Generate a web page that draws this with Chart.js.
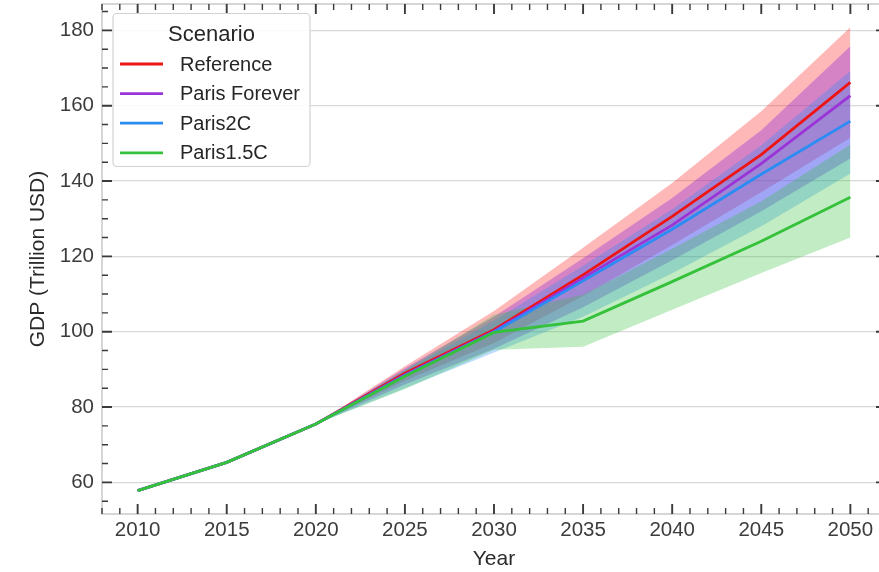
<!DOCTYPE html>
<html>
<head>
<meta charset="utf-8">
<script src="https://cdn.jsdelivr.net/npm/chart.js@4.4.1/dist/chart.umd.min.js"></script>
<style>
  html, body { margin: 0; padding: 0; background: #fff; overflow: hidden; }
  #wrap { width: 879px; height: 572px; overflow: hidden; }
  canvas { display: block; }
</style>
</head>
<body>
<div id="wrap"><canvas id="gdp" width="886" height="572"></canvas></div>
<script>
// Global GDP pathways by scenario (trillion USD)
const years = [2010, 2015, 2020, 2025, 2030, 2035, 2040, 2045, 2050];
const scenarioNames = ['Reference', 'Paris Forever', 'Paris2C', 'Paris1.5C'];

const referenceGdp    = [57.8, 65.3, 75.5, 89.0, 100.5, 115.1, 130.6, 147.0, 166.2];
const parisForeverGdp = [57.8, 65.3, 75.5, 88.6, 100.1, 114.3, 128.3, 144.6, 162.7];
const paris2cGdp      = [57.8, 65.3, 75.5, 88.3,  99.9, 113.5, 127.2, 141.8, 155.9];
const paris15cGdp     = [57.8, 65.3, 75.5, 88.2,  99.8, 102.8, 113.3, 124.0, 135.7];

// Uncertainty ranges around each pathway
const referenceHigh    = [57.8, 65.3, 75.5, 90.8, 105.5, 122.3, 139.5, 158.5, 180.8];
const referenceLow     = [57.8, 65.3, 75.5, 87.0,  97.0, 109.5, 123.0, 137.0, 151.5];
const parisForeverHigh = [57.8, 65.3, 75.5, 90.3, 104.0, 119.5, 135.5, 153.5, 175.8];
const parisForeverLow  = [57.8, 65.3, 75.5, 86.0,  95.5, 106.5, 119.0, 132.0, 146.0];
const paris2cHigh      = [57.8, 65.3, 75.5, 89.8, 103.0, 117.5, 132.5, 149.5, 169.2];
const paris2cLow       = [57.8, 65.3, 75.5, 85.0,  94.5, 104.0, 115.5, 128.0, 142.0];
const paris15cHigh     = [57.8, 65.3, 75.5, 89.8, 104.5, 109.8, 122.0, 134.6, 149.7];
const paris15cLow      = [57.8, 65.3, 75.5, 84.8,  95.2,  96.0, 105.8, 115.6, 125.0];

const xTickValues = [2010, 2015, 2020, 2025, 2030, 2035, 2040, 2045, 2050];
const yTickValues = [60, 80, 100, 120, 140, 160, 180];

const lineColors = ['#ee1414', '#9a34d8', '#2b8cf3', '#35c13a'];
const bandColors = ['rgba(255,20,20,0.30)', 'rgba(140,40,225,0.36)', 'rgba(35,140,250,0.30)', 'rgba(51,193,58,0.30)'];

const FONT = "'Liberation Sans', Arial, sans-serif";

const pts = arr => years.map((x, i) => ({ x, y: arr[i] }));

function lineSet(i, values) {
  return {
    label: scenarioNames[i], data: pts(values),
    borderColor: lineColors[i], backgroundColor: lineColors[i],
    borderWidth: 2.8, pointRadius: 0, pointHoverRadius: 0,
    tension: 0, fill: false, order: -1 - i
  };
}
function bandSets(i, high, low) {
  const base = { pointRadius: 0, pointHoverRadius: 0, borderWidth: 0, borderColor: 'rgba(0,0,0,0)', tension: 0, order: 4 - i };
  return [
    Object.assign({}, base, { label: scenarioNames[i] + ' high', data: pts(high), fill: false }),
    Object.assign({}, base, { label: scenarioNames[i] + ' low', data: pts(low), fill: '-1', backgroundColor: bandColors[i] })
  ];
}

const datasets = [
  lineSet(0, referenceGdp),
  lineSet(1, parisForeverGdp),
  lineSet(2, paris2cGdp),
  lineSet(3, paris15cGdp),
  ...bandSets(0, referenceHigh, referenceLow),
  ...bandSets(1, parisForeverHigh, parisForeverLow),
  ...bandSets(2, paris2cHigh, paris2cLow),
  ...bandSets(3, paris15cHigh, paris15cLow)
];

// Frame and inward tick marks on all four sides
const frameTicks = {
  id: 'frameTicks',
  afterDatasetsDraw(chart) {
    const { ctx, chartArea: a, scales: { x, y } } = chart;
    ctx.save();
    ctx.strokeStyle = '#c9c9c9';
    ctx.lineWidth = 1.5;
    ctx.strokeRect(a.left, a.top, a.right - a.left, a.bottom - a.top);
    ctx.strokeStyle = '#3a3a3a';
    for (let yr = Math.ceil(x.min); yr <= x.max; yr++) {
      const major = yr % 5 === 0;
      const len = major ? 10 : 6;
      ctx.lineWidth = major ? 1.9 : 1.4;
      const px = x.getPixelForValue(yr);
      ctx.beginPath();
      ctx.moveTo(px, a.bottom); ctx.lineTo(px, a.bottom - len);
      ctx.moveTo(px, a.top); ctx.lineTo(px, a.top + len);
      ctx.stroke();
    }
    for (let v = Math.ceil(y.min / 5) * 5; v <= y.max; v += 5) {
      const major = v % 20 === 0;
      const len = major ? 10 : 6;
      ctx.lineWidth = major ? 1.9 : 1.4;
      const py = y.getPixelForValue(v);
      ctx.beginPath();
      ctx.moveTo(a.left, py); ctx.lineTo(a.left + len, py);
      ctx.moveTo(a.right, py); ctx.lineTo(a.right - len, py);
      ctx.stroke();
    }
    ctx.restore();
  }
};

// Boxed legend in the upper-left corner of the plot
const scenarioLegend = {
  id: 'scenarioLegend',
  afterDraw(chart) {
    const { ctx, chartArea: a } = chart;
    const x0 = a.left + 11, y0 = a.top + 9.5, w = 197, h = 153, r = 4;
    ctx.save();
    ctx.beginPath();
    ctx.moveTo(x0 + r, y0);
    ctx.lineTo(x0 + w - r, y0);
    ctx.arcTo(x0 + w, y0, x0 + w, y0 + r, r);
    ctx.lineTo(x0 + w, y0 + h - r);
    ctx.arcTo(x0 + w, y0 + h, x0 + w - r, y0 + h, r);
    ctx.lineTo(x0 + r, y0 + h);
    ctx.arcTo(x0, y0 + h, x0, y0 + h - r, r);
    ctx.lineTo(x0, y0 + r);
    ctx.arcTo(x0, y0, x0 + r, y0, r);
    ctx.closePath();
    ctx.fillStyle = 'rgba(255,255,255,0.85)';
    ctx.fill();
    ctx.strokeStyle = '#d2d2d2';
    ctx.lineWidth = 1.2;
    ctx.stroke();

    ctx.fillStyle = '#262626';
    ctx.textBaseline = 'middle';
    ctx.textAlign = 'center';
    ctx.font = '22px ' + FONT;
    ctx.fillText('Scenario', x0 + w / 2, y0 + 21);

    ctx.textAlign = 'left';
    ctx.font = '20px ' + FONT;
    for (let i = 0; i < 4; i++) {
      const ds = chart.data.datasets[i];
      const cy = y0 + 50.5 + i * 29.6;
      ctx.strokeStyle = ds.borderColor;
      ctx.lineWidth = 2.8;
      ctx.beginPath();
      ctx.moveTo(x0 + 7, cy);
      ctx.lineTo(x0 + 50, cy);
      ctx.stroke();
      ctx.fillText(ds.label, x0 + 67, cy + 1);
    }
    ctx.restore();
  }
};

new Chart(document.getElementById('gdp'), {
  type: 'line',
  data: { datasets },
  plugins: [frameTicks, scenarioLegend],
  options: {
    responsive: false,
    animation: false,
    devicePixelRatio: 1,
    layout: { padding: { left: 0, top: 4, right: 0, bottom: 0 } },
    plugins: { legend: { display: false }, tooltip: { enabled: false } },
    scales: {
      x: {
        type: 'linear', min: 2008, max: 2052,
        afterBuildTicks: s => { s.ticks = xTickValues.map(v => ({ value: v })); },
        afterFit: s => { s.height = 58; s.paddingLeft = 0; s.paddingRight = 0; },
        grid: { display: false, drawTicks: false },
        border: { display: false },
        ticks: { padding: 4, color: '#3c3c3c', font: { family: FONT, size: 20.5 }, maxRotation: 0, autoSkip: false, callback: v => String(v) },
        title: { display: true, text: 'Year', color: '#2a2a2a', font: { family: FONT, size: 21 }, padding: { top: 0, bottom: 0 } }
      },
      y: {
        type: 'linear', min: 51.6, max: 187,
        afterBuildTicks: s => { s.ticks = yTickValues.map(v => ({ value: v })); },
        afterFit: s => { s.width = 102; s.paddingTop = 0; s.paddingBottom = 0; },
        grid: { color: '#d9d9d9', lineWidth: 1.3, drawTicks: false },
        border: { display: false },
        ticks: { padding: 8, color: '#3c3c3c', font: { family: FONT, size: 20.5 }, autoSkip: false, callback: v => String(v) },
        title: { display: true, text: 'GDP (Trillion USD)', color: '#2a2a2a', font: { family: FONT, size: 21 }, padding: { top: 26, bottom: 0 } }
      }
    }
  }
});
</script>
</body>
</html>
